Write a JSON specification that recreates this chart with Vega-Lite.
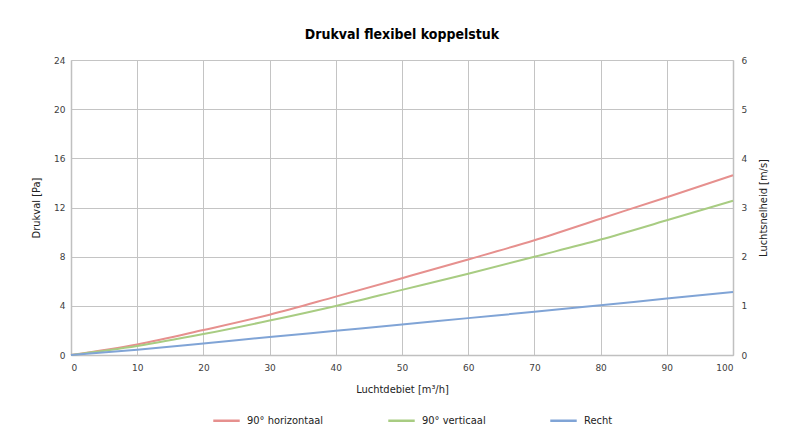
{
  "$schema": "https://vega.github.io/schema/vega-lite/v6.json",
  "width": 662,
  "height": 295,
  "autosize": {"type": "none"},
  "padding": {"left": 71, "top": 60, "right": 54, "bottom": 84},
  "background": "white",
  "title": {
    "text": "Drukval flexibel koppelstuk",
    "font": "DejaVu Sans Condensed",
    "fontSize": 14,
    "fontWeight": "bold",
    "color": "#000000",
    "anchor": "middle",
    "offset": 14
  },
  "config": {
    "view": {"stroke": null},
    "font": "DejaVu Sans",
    "axis": {
      "gridColor": "#c4c4c4",
      "gridWidth": 1,
      "domainColor": "#c0c0c0",
      "domainWidth": 1.5,
      "ticks": false,
      "labelFont": "DejaVu Sans",
      "labelFontSize": 9,
      "labelColor": "#404040",
      "titleFont": "DejaVu Sans Condensed",
      "titleFontSize": 11,
      "titleFontWeight": "normal",
      "titleColor": "#222222"
    },
    "legend": {
      "labelFont": "DejaVu Sans Condensed",
      "labelFontSize": 11,
      "labelColor": "#222222"
    }
  },
  "datasets": {
    "drukval": [
      {"debiet": 0, "drukval": 0, "type": "90° horizontaal"},
      {"debiet": 10, "drukval": 0.86, "type": "90° horizontaal"},
      {"debiet": 20, "drukval": 2.03, "type": "90° horizontaal"},
      {"debiet": 30, "drukval": 3.28, "type": "90° horizontaal"},
      {"debiet": 40, "drukval": 4.75, "type": "90° horizontaal"},
      {"debiet": 50, "drukval": 6.25, "type": "90° horizontaal"},
      {"debiet": 60, "drukval": 7.77, "type": "90° horizontaal"},
      {"debiet": 70, "drukval": 9.34, "type": "90° horizontaal"},
      {"debiet": 80, "drukval": 11.09, "type": "90° horizontaal"},
      {"debiet": 90, "drukval": 12.84, "type": "90° horizontaal"},
      {"debiet": 100, "drukval": 14.62, "type": "90° horizontaal"},
      {"debiet": 0, "drukval": 0, "type": "90° verticaal"},
      {"debiet": 10, "drukval": 0.73, "type": "90° verticaal"},
      {"debiet": 20, "drukval": 1.7, "type": "90° verticaal"},
      {"debiet": 30, "drukval": 2.8, "type": "90° verticaal"},
      {"debiet": 40, "drukval": 3.99, "type": "90° verticaal"},
      {"debiet": 50, "drukval": 5.3, "type": "90° verticaal"},
      {"debiet": 60, "drukval": 6.61, "type": "90° verticaal"},
      {"debiet": 70, "drukval": 7.99, "type": "90° verticaal"},
      {"debiet": 80, "drukval": 9.39, "type": "90° verticaal"},
      {"debiet": 90, "drukval": 10.96, "type": "90° verticaal"},
      {"debiet": 100, "drukval": 12.55, "type": "90° verticaal"},
      {"debiet": 0, "drukval": 0, "type": "Recht"},
      {"debiet": 10, "drukval": 0.43, "type": "Recht"},
      {"debiet": 20, "drukval": 0.94, "type": "Recht"},
      {"debiet": 30, "drukval": 1.46, "type": "Recht"},
      {"debiet": 40, "drukval": 1.97, "type": "Recht"},
      {"debiet": 50, "drukval": 2.48, "type": "Recht"},
      {"debiet": 60, "drukval": 3.0, "type": "Recht"},
      {"debiet": 70, "drukval": 3.51, "type": "Recht"},
      {"debiet": 80, "drukval": 4.05, "type": "Recht"},
      {"debiet": 90, "drukval": 4.59, "type": "Recht"},
      {"debiet": 100, "drukval": 5.13, "type": "Recht"}
    ],
    "snelheid": [
      {"debiet": 0, "snelheid": 0},
      {"debiet": 100, "snelheid": 6}
    ]
  },
  "layer": [
    {
      "data": {"name": "drukval"},
      "mark": {"type": "line", "strokeWidth": 2, "interpolate": "monotone"},
      "encoding": {
        "x": {
          "field": "debiet",
          "type": "quantitative",
          "scale": {"domain": [0, 100], "nice": false},
          "axis": {
            "title": "Luchtdebiet [m³/h]",
            "values": [0, 10, 20, 30, 40, 50, 60, 70, 80, 90, 100],
            "labelPadding": 8,
            "titlePadding": 11
          }
        },
        "y": {
          "field": "drukval",
          "type": "quantitative",
          "scale": {"domain": [0, 24], "nice": false},
          "axis": {
            "title": "Drukval [Pa]",
            "values": [0, 4, 8, 12, 16, 20, 24],
            "labelPadding": 6,
            "titlePadding": 12
          }
        },
        "color": {
          "field": "type",
          "type": "nominal",
          "scale": {
            "domain": ["90° horizontaal", "90° verticaal", "Recht"],
            "range": ["#E6908E", "#A8CC82", "#80A4D6"]
          },
          "legend": {
            "title": null,
            "orient": "none",
            "legendX": 141,
            "legendY": 346,
            "direction": "horizontal",
            "symbolType": "stroke",
            "symbolStrokeWidth": 2.5,
            "symbolSize": 700,
            "columnPadding": 59,
            "labelOffset": 6
          }
        }
      }
    },
    {
      "data": {"name": "snelheid"},
      "mark": {"type": "line", "opacity": 0},
      "encoding": {
        "x": {"field": "debiet", "type": "quantitative"},
        "y": {
          "field": "snelheid",
          "type": "quantitative",
          "scale": {"domain": [0, 6], "nice": false},
          "axis": {
            "orient": "right",
            "title": "Luchtsnelheid [m/s]",
            "titleAngle": 270,
            "values": [0, 1, 2, 3, 4, 5, 6],
            "grid": false,
            "labelPadding": 8,
            "titlePadding": 22
          }
        }
      }
    }
  ],
  "resolve": {"scale": {"y": "independent"}, "axis": {"y": "independent"}}
}
